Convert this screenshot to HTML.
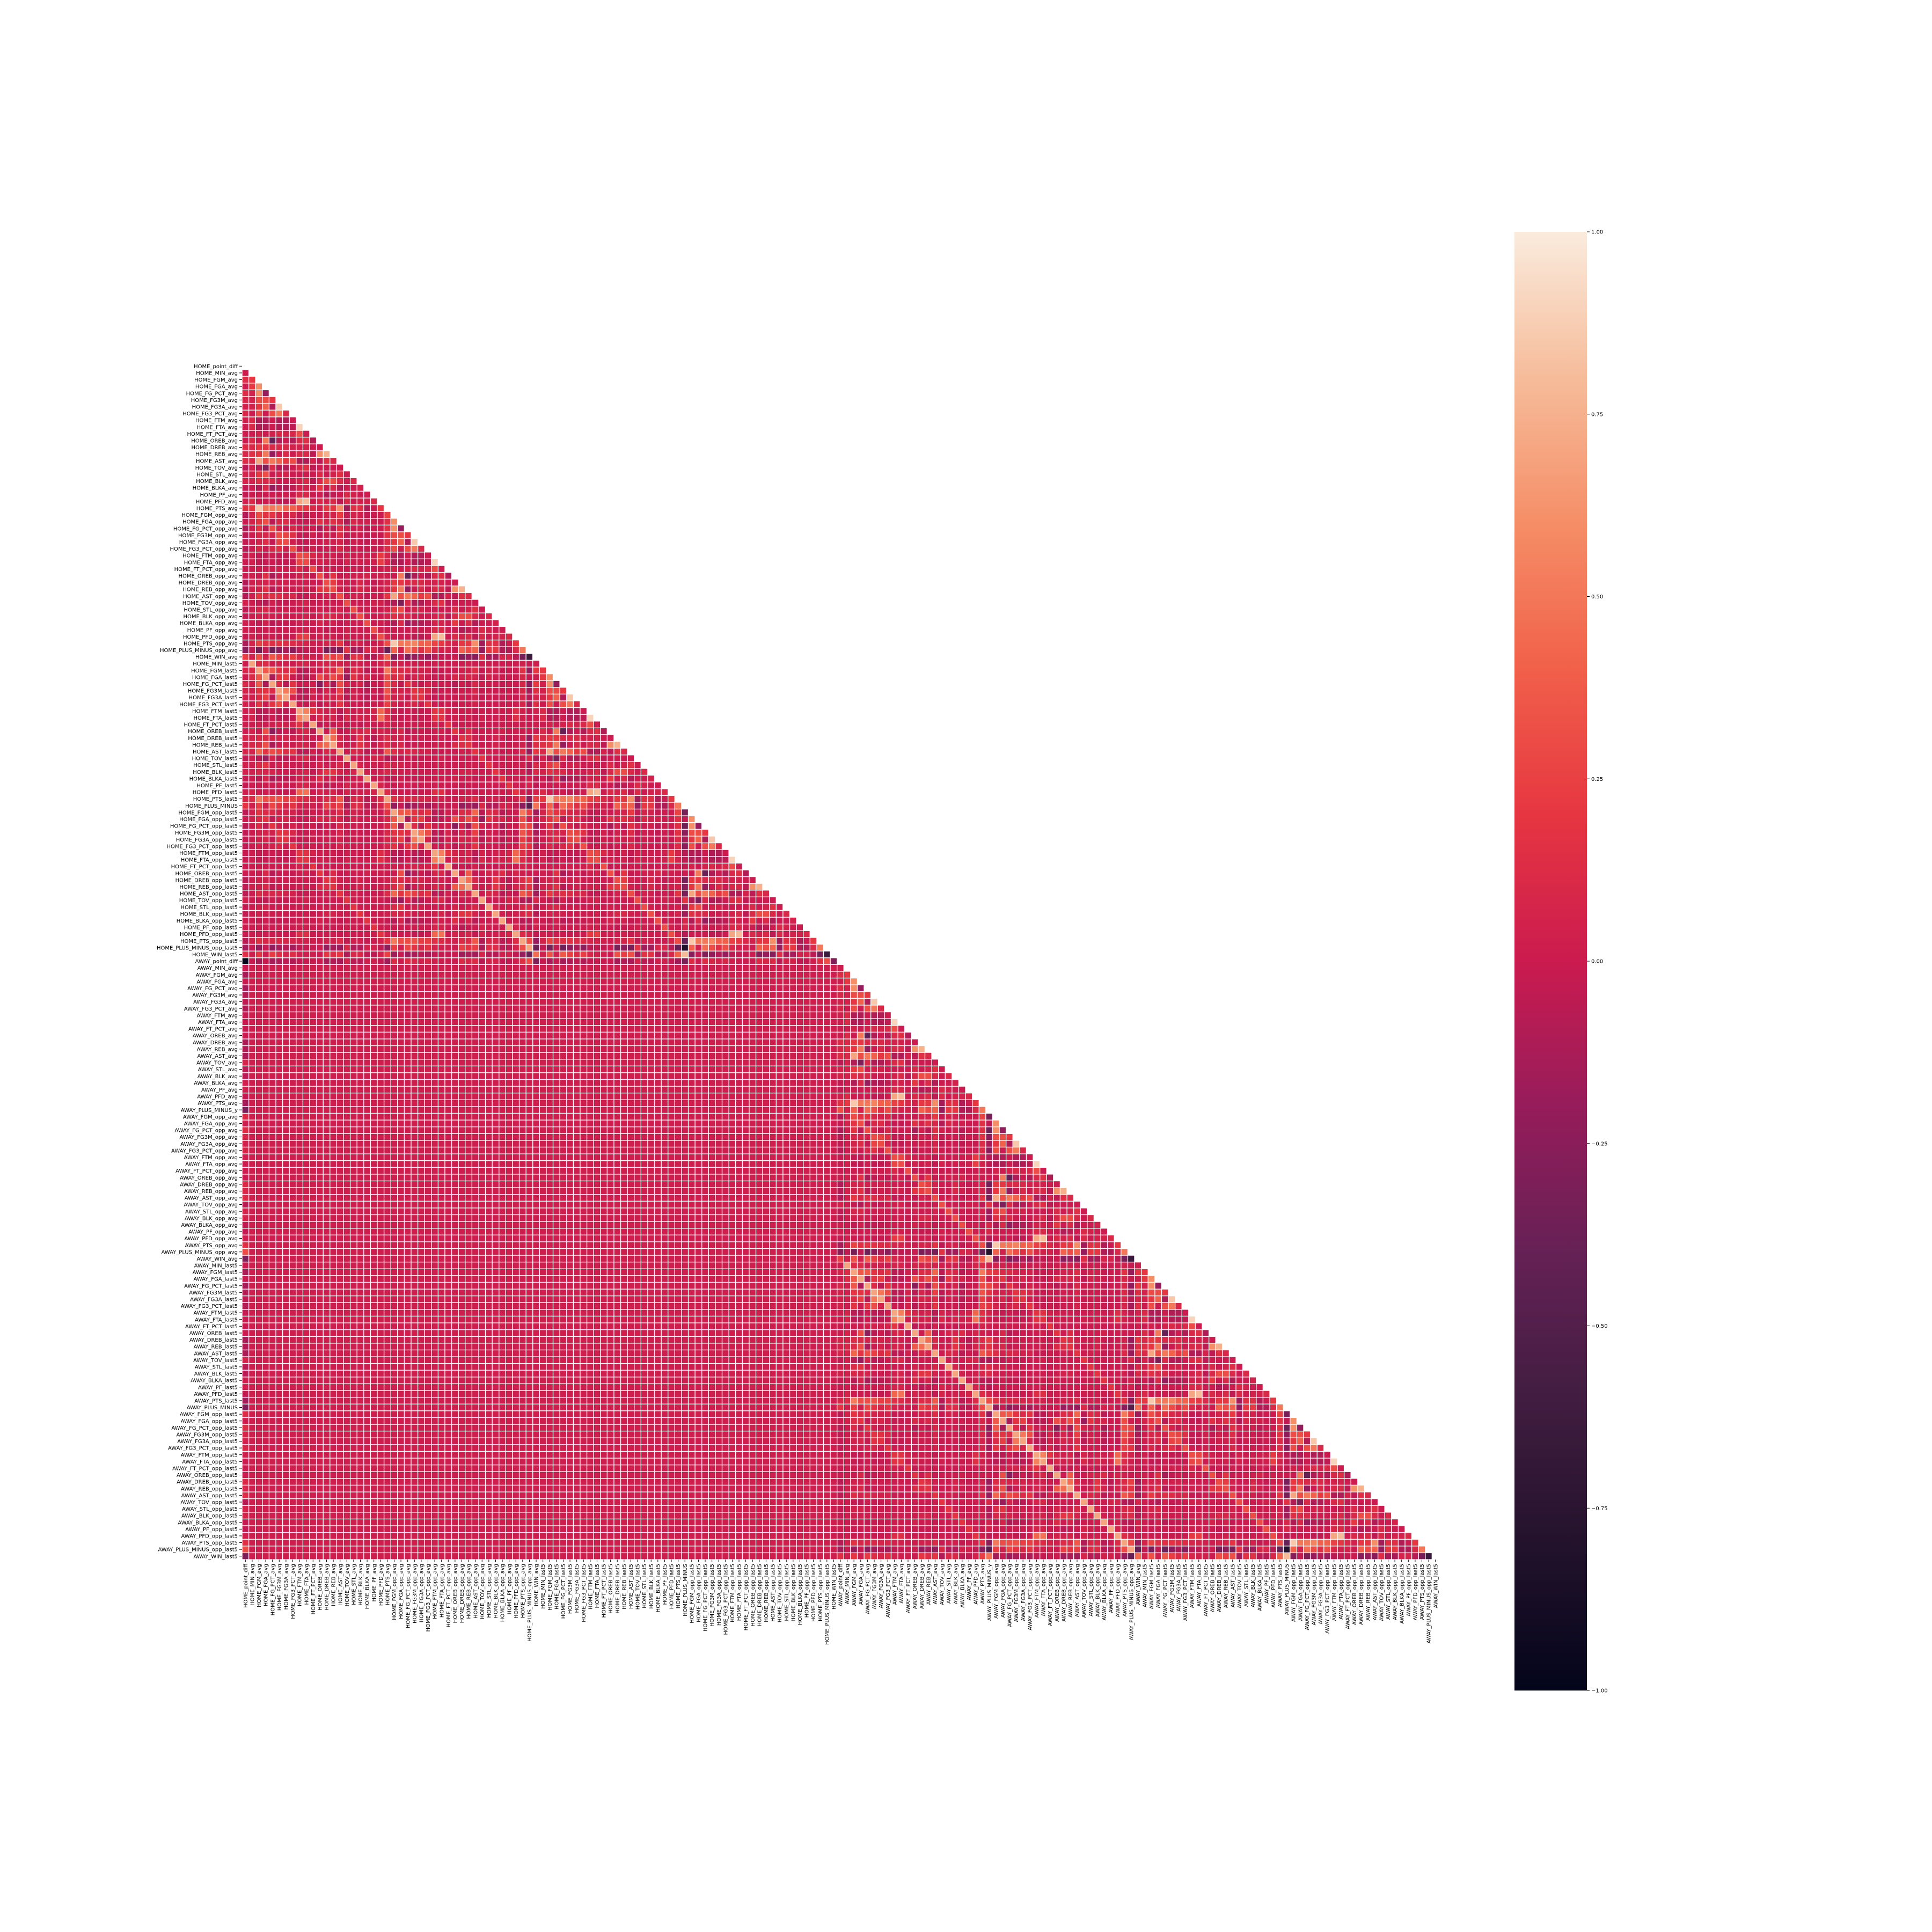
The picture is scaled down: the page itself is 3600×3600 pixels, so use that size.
<!DOCTYPE html>
<html><head><meta charset="utf-8">
<style>
html,body{margin:0;padding:0;background:#fff;}
svg{display:block;font-family:"DejaVu Sans","Liberation Sans",sans-serif;}
</style></head>
<body>
<svg id="chart" width="3600" height="3600" viewBox="0 0 3600 3600" xmlns="http://www.w3.org/2000/svg">
<defs>
<linearGradient id="rocket" x1="0" y1="1" x2="0" y2="0">
<stop offset="0" stop-color="rgb(3,5,26)"/>
<stop offset="0.1" stop-color="rgb(35,18,44)"/>
<stop offset="0.2" stop-color="rgb(65,29,65)"/>
<stop offset="0.3" stop-color="rgb(101,33,85)"/>
<stop offset="0.4" stop-color="rgb(150,28,91)"/>
<stop offset="0.5" stop-color="rgb(203,27,79)"/>
<stop offset="0.6" stop-color="rgb(230,54,65)"/>
<stop offset="0.7" stop-color="rgb(241,96,74)"/>
<stop offset="0.8" stop-color="rgb(245,142,103)"/>
<stop offset="0.9" stop-color="rgb(246,188,154)"/>
<stop offset="1" stop-color="rgb(250,235,221)"/>
</linearGradient>
</defs>
<g id="cells"></g>
<g id="ylabels"></g>
<g id="xlabels"></g>
<g id="cbar">
<rect x="2822" y="432" width="135" height="2718" fill="url(#rocket)"/>
</g>
</svg>
<script>
// ---- data ----
const statKeys = ["MIN","FGM","FGA","FG_PCT","FG3M","FG3A","FG3_PCT","FTM","FTA","FT_PCT","OREB","DREB","REB","AST","TOV","STL","BLK","BLKA","PF","PFD","PTS","PM"];
const statCorr = [
[1],
[0.2,1],
[0.2,0.6,1],
[0.05,0.6,-0.2,1],
[0.05,0.3,0.3,0.2,1],
[0.05,0.2,0.4,-0.1,0.85,1],
[0.0,0.3,0.0,0.3,0.5,0.1,1],
[0.1,-0.1,-0.1,0.0,-0.1,-0.1,0.0,1],
[0.1,-0.1,-0.1,0.0,-0.1,-0.1,-0.05,0.9,1],
[0.0,0.05,0.0,0.05,0.1,0.05,0.1,0.3,0.0,1],
[0.1,0.0,0.5,-0.4,-0.1,0.0,-0.1,0.1,0.15,-0.1,1],
[0.1,0.2,0.2,0.1,0.1,0.1,0.05,0.05,0.05,0.0,0.0,1],
[0.15,0.2,0.5,-0.2,0.0,0.1,0.0,0.1,0.1,-0.05,0.6,0.75,1],
[0.1,0.7,0.3,0.5,0.4,0.2,0.3,-0.1,-0.1,0.05,-0.05,0.15,0.1,1],
[0.05,-0.1,-0.3,0.1,-0.1,-0.1,0.0,0.1,0.15,-0.05,0.0,0.0,0.0,0.0,1],
[0.05,0.2,0.3,0.0,0.05,0.05,0.0,0.0,0.0,0.0,0.1,0.0,0.05,0.15,0.0,1],
[0.05,0.15,0.1,0.1,0.0,0.0,0.0,0.05,0.1,-0.05,0.1,0.3,0.3,0.1,0.0,0.1,1],
[0.0,-0.1,0.1,-0.2,-0.1,-0.1,-0.05,0.05,0.05,0.0,0.2,0.0,0.1,-0.1,0.0,0.0,0.05,1],
[0.0,0.0,0.0,0.0,0.0,0.0,0.0,0.1,0.1,0.0,0.0,-0.1,-0.05,0.0,0.1,0.05,0.0,0.0,1],
[0.1,0.0,0.0,0.0,-0.05,-0.05,0.0,0.7,0.8,0.0,0.1,0.05,0.1,-0.05,0.1,0.0,0.05,0.05,0.1,1],
[0.2,0.85,0.5,0.5,0.55,0.4,0.4,0.25,0.2,0.1,0.05,0.2,0.2,0.6,-0.15,0.15,0.15,-0.1,0.0,0.2,1],
[0.05,0.4,0.05,0.45,0.3,0.15,0.3,0.1,0.05,0.05,0.0,0.4,0.3,0.4,-0.2,0.2,0.2,-0.1,-0.1,0.1,0.5,1]
];
const ownStats = ["MIN","FGM","FGA","FG_PCT","FG3M","FG3A","FG3_PCT","FTM","FTA","FT_PCT","OREB","DREB","REB","AST","TOV","STL","BLK","BLKA","PF","PFD","PTS"];
const oppStats = ["FGM","FGA","FG_PCT","FG3M","FG3A","FG3_PCT","FTM","FTA","FT_PCT","OREB","DREB","REB","AST","TOV","STL","BLK","BLKA","PF","PFD","PTS"];
const colorbarTicks = [1,0.75,0.5,0.25,0,-0.25,-0.5,-0.75,-1];
const cmapStops = [[3,5,26],[35,18,44],[65,29,65],[101,33,85],[150,28,91],[203,27,79],[230,54,65],[241,96,74],[245,142,103],[246,188,154],[250,235,221]];

// ---- variable list ----
function buildSide(side, extraPMy){
  const v = [];
  v.push({name:side+"_point_diff", side, stat:"PM", opp:false, l5:false, kind:"PD"});
  ownStats.forEach(s=>v.push({name:side+"_"+s+"_avg", side, stat:s, opp:false, l5:false}));
  if(extraPMy) v.push({name:side+"_PLUS_MINUS_y", side, stat:"PM", opp:false, l5:false});
  oppStats.forEach(s=>v.push({name:side+"_"+s+"_opp_avg", side, stat:s, opp:true, l5:false}));
  v.push({name:side+"_PLUS_MINUS_opp_avg", side, stat:"PM", opp:true, l5:false});
  v.push({name:side+"_WIN_avg", side, stat:"PM", opp:false, l5:false, kind:"WIN"});
  ownStats.forEach(s=>v.push({name:side+"_"+s+"_last5", side, stat:s, opp:false, l5:true}));
  v.push({name:side+"_PLUS_MINUS", side, stat:"PM", opp:false, l5:true});
  oppStats.forEach(s=>v.push({name:side+"_"+s+"_opp_last5", side, stat:s, opp:true, l5:true}));
  v.push({name:side+"_PLUS_MINUS_opp_last5", side, stat:"PM", opp:true, l5:true});
  v.push({name:side+"_WIN_last5", side, stat:"PM", opp:false, l5:true, kind:"WIN"});
  return v;
}
const vars = buildSide("HOME",false).concat(buildSide("AWAY",true));

function S(a,b){const i=statKeys.indexOf(a),j=statKeys.indexOf(b);return i>=j?statCorr[i][j]:statCorr[j][i];}
function fac(v){return v.kind==="PD"?0.3:(v.kind==="WIN"?0.8:1);}
function corr(a,b){
  if(a.side!==b.side){
    if(a.kind==="PD"&&b.kind==="PD") return -1;
    if(a.kind==="PD"||b.kind==="PD"){const o=a.kind==="PD"?b:a;return -0.3*S(o.stat,"PM")*(o.opp?-1:1);}
    return 0.02;
  }
  let v;
  const s=S(a.stat,b.stat);
  if(a.opp!==b.opp){ v=(a.stat==="PM"||b.stat==="PM")? -0.8*s : 0.3*s; }
  else v=s;
  if(a.l5!==b.l5){ v = (a.stat===b.stat && a.opp===b.opp && a.kind===b.kind)? 0.7 : v*0.6; }
  v*=fac(a)*fac(b);
  return Math.max(-1,Math.min(1,v));
}
function cmap(val){
  const t=Math.max(0,Math.min(1,(val+1)/2))*(cmapStops.length-1);
  const i=Math.min(Math.floor(t),cmapStops.length-2), f=t-i;
  const a=cmapStops[i],b=cmapStops[i+1];
  return "rgb("+a.map((c,k)=>Math.round(c+(b[k]-c)*f)).join(",")+")";
}

// ---- layout ----
const NS="http://www.w3.org/2000/svg";
const N=vars.length, x0=451, y0=676, cell=(2906-676)/N;
const xPos=i=>x0+i*cell, yPos=i=>y0+i*cell;
const cellsG=document.getElementById("cells");
let frag=document.createDocumentFragment();
for(let r=1;r<N;r++){
  for(let c=0;c<r;c++){
    const rect=document.createElementNS(NS,"rect");
    rect.setAttribute("x",(xPos(c)+0.7).toFixed(2));
    rect.setAttribute("y",(yPos(r)+0.7).toFixed(2));
    rect.setAttribute("width",(cell-1.4).toFixed(2));
    rect.setAttribute("height",(cell-1.4).toFixed(2));
    rect.setAttribute("fill",cmap(corr(vars[r],vars[c])));
    
    
    frag.appendChild(rect);
  }
}
cellsG.appendChild(frag);

const yl=document.getElementById("ylabels"), xl=document.getElementById("xlabels");
vars.forEach((v,i)=>{
  const cy=yPos(i)+cell/2;
  const tk=document.createElementNS(NS,"line");
  tk.setAttribute("x1",x0-5);tk.setAttribute("x2",x0);tk.setAttribute("y1",cy);tk.setAttribute("y2",cy);
  tk.setAttribute("stroke","#000");tk.setAttribute("stroke-width","1");
  
  
  yl.appendChild(tk);
  const t=document.createElementNS(NS,"text");
  t.setAttribute("x",x0-8);t.setAttribute("y",cy+3.6);
  t.setAttribute("text-anchor","end");t.setAttribute("font-size","10");
  t.textContent=v.name;
  
  
  yl.appendChild(t);

  const cx=xPos(i)+cell/2;
  const tk2=document.createElementNS(NS,"line");
  tk2.setAttribute("x1",cx);tk2.setAttribute("x2",cx);tk2.setAttribute("y1",2906);tk2.setAttribute("y2",2911);
  tk2.setAttribute("stroke","#000");tk2.setAttribute("stroke-width","1");
  
  
  xl.appendChild(tk2);
  const t2=document.createElementNS(NS,"text");
  t2.setAttribute("transform","translate("+(cx+3.6)+",2914) rotate(-90)");
  t2.setAttribute("text-anchor","end");t2.setAttribute("font-size","10");
  t2.textContent=v.name;
  
  
  xl.appendChild(t2);
});

const cb=document.getElementById("cbar");
colorbarTicks.forEach(v=>{
  const y=432+(1-v)/2*2718;
  const l=document.createElementNS(NS,"line");
  l.setAttribute("x1",2957);l.setAttribute("x2",2962);l.setAttribute("y1",y);l.setAttribute("y2",y);
  l.setAttribute("stroke","#000");l.setAttribute("stroke-width","1");
  
  
  cb.appendChild(l);
  const t=document.createElementNS(NS,"text");
  t.setAttribute("x",2965);t.setAttribute("y",y+3.6);t.setAttribute("font-size","10");
  t.textContent=(v<0?"\u2212":"")+Math.abs(v).toFixed(2);
  
  
  cb.appendChild(t);
});
</script>
</body></html>
